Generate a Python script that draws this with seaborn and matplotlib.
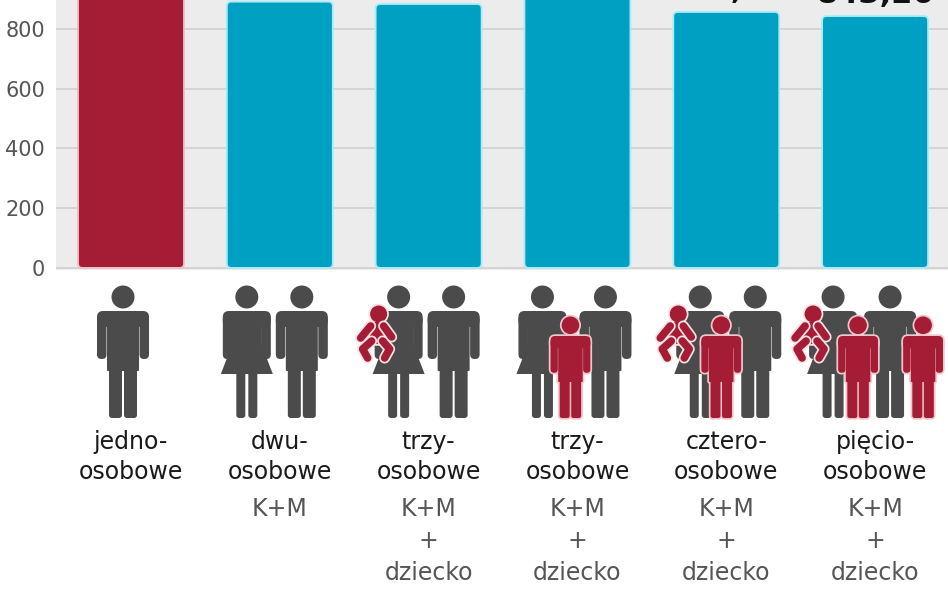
import matplotlib
matplotlib.use("Agg")
import matplotlib.pyplot as plt
import seaborn as sns
from matplotlib.patches import FancyBboxPatch, Circle, Polygon

# dane (minimum wg typu gospodarstwa)
kategorie = ["jedno", "dwu", "trzy_m", "trzy_s", "cztero", "piecio"]
wartosci = [1078.59, 891.40, 883.52, 935.80, 856.89, 843.26]
kolory = ["#a41d34", "#00a0c3", "#00a0c3", "#00a0c3", "#00a0c3", "#00a0c3"]
obwodki = ["#f2bcc4", "#a9ebf7", "#a9ebf7", "#a9ebf7", "#a9ebf7", "#a9ebf7"]
podpisy = ["jedno-\nosobowe", "dwu-\nosobowe", "trzy-\nosobowe", "trzy-\nosobowe",
           "cztero-\nosobowe", "pięcio-\nosobowe"]
opisy = ["", "K+M", "K+M\n+\ndziecko\nmłodsze", "K+M\n+\ndziecko\nstarsze",
         "K+M\n+\ndziecko\nmłodsze", "K+M\n+\ndziecko\nmłodsze"]
yticki = [0, 200, 400, 600, 800]

# sklad ikon pod slupkami (typ, przesuniecie w px od srodka slupka)
ikony = [
    [("man", -8)],
    [("woman", -33), ("man", 22)],
    [("woman", -30), ("man", 25), ("baby", -53)],
    [("woman", -35), ("man", 28), ("child", -7)],
    [("woman", -26), ("man", 29), ("child", -5), ("baby", -51)],
    [("woman", -42), ("man", 15), ("child", -17), ("child", 48), ("baby", -65)],
]

SZARY = "#4b4b4b"
CZERW = "#a41d34"

sns.set_style("white")
plt.rcParams["font.family"] = ["DejaVu Sans"]

fig = plt.figure(figsize=(9.48, 5.93), dpi=100)
ax = fig.add_axes([56 / 948, 1 - 270 / 593, 1 - 56 / 948, 270 / 593])

sns.barplot(x=kategorie, y=wartosci, hue=kategorie, palette=kolory, legend=False,
            width=0.712, saturation=1, ax=ax)

ax.set_xlim(-0.504, 5.49)
ax.set_ylim(-7, 897)
ax.set_facecolor("#ececec")
for s in ax.spines.values():
    s.set_visible(False)
ax.set_yticks(yticki)
ax.set_yticklabels([str(t) for t in yticki], fontsize=15, color="#555555")
ax.yaxis.grid(True, color="#d0d0d0", lw=1.2)
ax.set_axisbelow(True)
ax.tick_params(axis="y", length=0, pad=8)
ax.set_xticks(range(len(kategorie)))
ax.set_xticklabels(podpisy, fontsize=17, color="#1a1a1a", linespacing=1.33)
ax.tick_params(axis="x", length=0, pad=115)
ax.set_xlabel("")
ax.set_ylabel("")

for i, opis in enumerate(opisy):
    ax.annotate(opis, xy=(i, 0), xycoords=("data", "axes fraction"), xytext=(0, -163.5),
                textcoords="offset points", ha="center", va="top", fontsize=17,
                color="#555555", linespacing=1.42, annotation_clip=False)

# etykiety wartosci
for i, cont in enumerate(ax.containers):
    ax.bar_label(cont, labels=[f"{wartosci[i]:.2f}".replace(".", ",")], padding=5,
                 fontsize=22, fontweight="bold", color="#111111")

# zaokraglone slupki
p0 = ax.transData.transform((0, 0))
p1 = ax.transData.transform((1, 100))
aspekt = (p1[0] - p0[0]) / ((p1[1] - p0[1]) / 100)
for i, cont in enumerate(ax.containers):
    for bar in cont:
        fb = FancyBboxPatch((bar.get_x(), 0), bar.get_width(), bar.get_height(),
                            boxstyle="round,pad=0,rounding_size=0.03", mutation_aspect=aspekt,
                            fc=kolory[i], ec=obwodki[i], lw=1.3, zorder=2)
        ax.add_patch(fb)
        bar.set_visible(False)


# ---- ikony ludzikow (w pikselach) ----
def dorosly(cx, kobieta, T=311.0, k=1.0):
    s = []
    hr = 11.5 * k
    s.append(("circle", cx, T - 2.5 * k - hr, hr))
    W = (24 if kobieta else 26) * k
    s.append(("box", cx - W, T, 2 * W, 16 * k, 6 * k))
    s.append(("box", cx - W, T + 4 * k, 9.5 * k, 44 * k, 4.5 * k))
    s.append(("box", cx + W - 9.5 * k, T + 4 * k, 9.5 * k, 44 * k, 4.5 * k))
    if kobieta:
        s.append(("box", cx - 15 * k, T + 4 * k, 30 * k, 32 * k, 1 * k))
        s.append(("poly", [(cx - 14 * k, T + 32 * k), (cx + 14 * k, T + 32 * k),
                           (cx + 26 * k, T + 63 * k), (cx - 26 * k, T + 63 * k)]))
        s.append(("box", cx - 10.5 * k, T + 60 * k, 9 * k, 47 * k, 3 * k))
        s.append(("box", cx + 1.5 * k, T + 60 * k, 9 * k, 47 * k, 3 * k))
    else:
        s.append(("box", cx - 16 * k, T + 4 * k, 32 * k, 56 * k, 1 * k))
        s.append(("box", cx - 14 * k, T + 56 * k, 13 * k, 51 * k, 3 * k))
        s.append(("box", cx + 1 * k, T + 56 * k, 13 * k, 51 * k, 3 * k))
    return s


def niemowle(cx):
    return [
        ("circle", cx + 3, 314, 8.5),
        ("box", cx - 9, 322, 20, 22, 6),
        ("line", [cx - 5, cx - 15], [326, 338], 5.5),
        ("line", [cx + 8, cx + 16], [326, 337], 5.5),
        ("line", [cx - 4, cx - 13, cx - 8], [341, 349, 358], 5.5),
        ("line", [cx + 7, cx + 14, cx + 9], [341, 349, 358], 5.5),
    ]


def rysuj(ov, ksztalty, kolor, obw=None, ew=3.0):
    przebiegi = [False, True] if obw else [True]
    for wypel in przebiegi:
        fc = kolor if wypel else obw
        lw = 0 if wypel else ew
        ec = "none" if wypel else obw
        for sh in ksztalty:
            if sh[0] == "circle":
                ov.add_patch(Circle((sh[1], sh[2]), sh[3], fc=fc, ec=ec, lw=lw))
            elif sh[0] == "box":
                _, x, y, w, h, r = sh
                ov.add_patch(FancyBboxPatch((x + r, y + r), w - 2 * r, h - 2 * r,
                                            boxstyle=f"round,pad={r}", fc=fc, ec=ec, lw=lw))
            elif sh[0] == "poly":
                ov.add_patch(Polygon(sh[1], closed=True, fc=fc, ec=ec, lw=lw))
            elif sh[0] == "line":
                ov.plot(sh[1], sh[2], color=fc, lw=sh[3] + lw, solid_capstyle="round",
                        solid_joinstyle="round")


ov = fig.add_axes([0, 0, 1, 1], zorder=5)
ov.set_xlim(0, 948)
ov.set_ylim(593, 0)
ov.axis("off")
ov.patch.set_alpha(0)

for i, grupa in enumerate(ikony):
    xc = ax.transData.transform((i, 0))[0]
    for typ, dx in grupa:
        cx = xc + dx
        if typ == "man":
            rysuj(ov, dorosly(cx, False), SZARY)
        elif typ == "woman":
            rysuj(ov, dorosly(cx, True), SZARY)
        elif typ == "child":
            rysuj(ov, dorosly(cx, False, T=336.0, k=82 / 107), CZERW, "#f0c6cd", 2.5)
        else:
            rysuj(ov, niemowle(cx), CZERW, "#f8e2e6", 2.5)

fig.savefig("out.png", dpi=100, facecolor="white")
